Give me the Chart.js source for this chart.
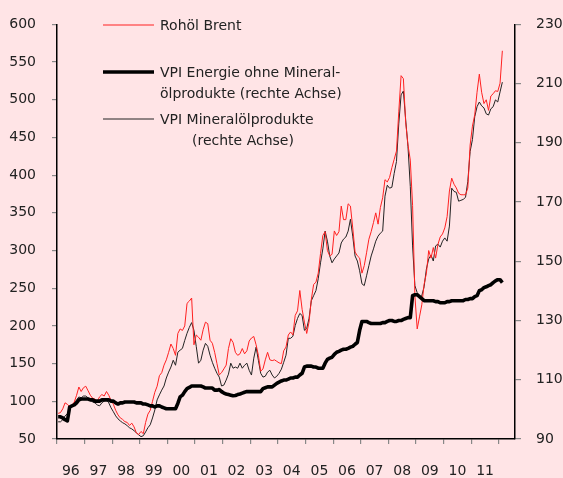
<!DOCTYPE html>
<html>
<head>
<meta charset="utf-8">
<script src="https://cdn.jsdelivr.net/npm/chart.js@4/dist/chart.umd.min.js"></script>
<style>
html,body{margin:0;padding:0;background:#FFE4E6;}
#wrap{width:563px;height:478px;}
</style>
</head>
<body>
<div id="wrap"><canvas id="c" width="563" height="478"></canvas></div>
<script>
// ---- data ----
const yearLabels = ['96','97','98','99','00','01','02','03','04','05','06','07','08','09','10','11'];
const startYear = 1996;
const axisEndYear = 2012.583;

// Rohöl Brent (left axis), monthly Jan 1996 - Feb 2012
const brent = [
 84,85,90,98,96,93,95,99,108,119,113,118,
 120,114,108,104,103,100,106,109,107,113,108,101,
 96,88,82,78,76,73,72,68,71,66,58,56,
 60,57,72,83,88,100,112,120,134,138,148,155,
 165,176,170,161,190,196,194,200,230,233,237,175,
 188,185,181,195,205,203,181,177,165,150,135,138,
 143,148,170,183,178,165,161,163,170,163,167,180,
 184,186,175,161,140,143,155,165,155,154,155,153,
 151,150,167,172,188,192,188,214,220,247,222,205,
 190,205,235,255,258,270,296,320,325,300,293,295,
 326,320,325,359,341,341,362,359,330,298,293,290,
 270,280,297,315,325,337,350,335,357,370,394,391,
 397,410,421,432,484,532,528,470,440,420,360,240,
 196,212,228,255,270,300,290,304,290,308,318,322,
 330,345,379,396,388,383,376,374,374,374,383,440,
 465,480,510,534,510,495,500,486,505,508,512,511,522,565
];

// VPI Mineralölprodukte (right axis)
const vpiMineral = [
 95.8,95.8,96.5,97.8,98.5,99.8,101.5,102.2,103.2,104.2,103.9,104.5,
 104.5,103.9,103.2,102.5,102.2,101.5,101.2,102.2,102.8,103.2,102.2,100.5,
 99.2,97.8,96.8,96.1,95.5,95.1,94.5,93.8,93.4,92.8,92.1,91.4,
 90.8,91.1,92.4,93.8,94.8,97.1,99.8,103.2,104.9,106.5,107.9,110.6,
 112.6,114.3,116.6,114.9,119.3,120.0,120.6,123.3,125.7,127.7,129.3,126.7,
 121.3,115.6,116.6,120.0,122.3,121.3,118.3,115.9,113.9,112.2,110.9,107.9,
 108.2,109.9,111.9,115.6,113.9,114.3,113.9,115.6,113.9,114.9,115.6,113.2,
 111.6,117.3,121.0,116.6,112.2,110.9,111.2,112.6,113.2,111.6,110.6,111.2,
 112.2,113.6,115.9,118.3,124.0,124.0,124.7,128.3,130.7,132.4,131.7,126.7,
 127.3,130.7,136.7,138.4,140.1,144.1,149.5,154.2,160.2,156.8,151.8,149.5,
 150.8,151.8,152.8,156.2,157.5,158.2,160.2,164.2,158.5,151.8,150.1,146.8,
 142.4,141.8,145.1,148.5,151.8,154.2,156.8,158.5,159.5,160.2,172.0,175.7,
 174.7,175.0,179.7,183.7,196.4,206.2,207.5,197.8,188.7,175.3,155.2,141.8,
 139.4,137.7,138.4,141.4,147.4,150.8,152.1,150.1,155.2,155.8,154.8,156.8,
 157.9,156.8,161.9,174.7,173.6,173.3,170.3,170.6,170.9,171.6,177.0,187.1,
 191.1,198.8,202.2,203.8,202.5,201.8,199.8,199.4,201.5,202.2,204.5,203.8,207.2,210.5
];

// VPI Energie ohne Mineralölprodukte (right axis)
const vpiEnergie = [
 97.5,97.5,97.1,96.5,96.1,100.8,101.2,101.5,102.2,103.2,103.5,103.5,
 103.5,103.5,103.2,103.2,102.8,102.8,102.8,103.2,103.2,103.2,103.2,102.8,
 102.8,102.2,101.8,102.2,102.2,102.5,102.5,102.5,102.5,102.5,102.2,102.2,
 102.2,101.8,101.8,101.5,101.2,101.2,100.8,101.2,101.2,100.8,100.5,100.2,
 100.2,100.2,100.2,100.2,102.0,104.2,104.8,106.0,107.0,107.4,107.9,107.9,
 107.9,107.9,107.9,107.6,107.2,107.2,107.2,107.2,106.5,106.5,106.7,106.0,
 105.5,105.2,105.0,104.8,104.6,104.7,105.0,105.2,105.5,105.8,106.0,106.0,
 106.0,106.0,106.0,106.0,106.0,107.0,107.3,107.6,107.6,107.6,108.2,108.8,
 109.2,109.6,109.9,109.9,110.2,110.6,110.6,110.9,110.9,111.6,112.2,114.3,
 114.6,114.6,114.6,114.3,114.3,113.9,113.9,113.9,115.6,116.9,117.3,117.6,
 118.6,119.3,119.6,120.0,120.3,120.3,120.6,121.0,121.3,122.0,122.6,126.7,
 129.7,129.7,129.7,129.3,129.0,129.0,129.0,129.0,129.0,129.3,129.3,129.7,
 130.0,130.0,129.7,129.7,130.0,130.0,130.4,130.7,131.0,131.0,138.4,138.7,
 138.7,138.1,137.4,136.7,136.7,136.7,136.7,136.7,136.4,136.4,136.0,136.0,
 136.0,136.4,136.4,136.7,136.7,136.7,136.7,136.7,136.7,137.1,137.1,137.4,
 137.4,138.1,138.4,140.1,140.4,141.1,141.4,141.8,142.1,142.8,143.4,143.8,143.8,142.8
];

const leftAxis = {min: 50, max: 600, step: 50};
const rightAxis = {min: 90, max: 230, step: 20};

// ---- chart ----
const FONT = 'DejaVu Sans';
const TXT = '#222222';
function toPoints(arr){ return arr.map((v,i)=>({x: startYear + (i+0.5)/12, y: v})); }

const legendPlugin = {
  id: 'manualLegend',
  afterDraw(chart){
    const ctx = chart.ctx;
    const items = [
      {lines:['Rohöl Brent'], color:'#FF2020', w:1, y:25, ind:[0]},
      {lines:['VPI Energie ohne Mineral-','ölprodukte (rechte Achse)'], color:'#000', w:3.5, y:72, ind:[0,0]},
      {lines:['VPI Mineralölprodukte','(rechte Achse)'], color:'#222', w:1, y:119, ind:[0,32]}
    ];
    ctx.save();
    ctx.font = '14px "' + FONT + '"';
    ctx.fillStyle = TXT;
    ctx.textBaseline = 'middle';
    ctx.textAlign = 'left';
    items.forEach(it=>{
      ctx.beginPath();
      ctx.strokeStyle = it.color;
      ctx.lineWidth = it.w;
      ctx.moveTo(103, it.y); ctx.lineTo(154, it.y);
      ctx.stroke();
      it.lines.forEach((t,k)=>{ ctx.fillText(t, 160 + it.ind[k], it.y + 1 + k*21); });
    });
    ctx.restore();
  }
};

new Chart(document.getElementById('c'), {
  type: 'line',
  data: {
    datasets: [
      {label:'VPI Energie ohne Mineralölprodukte (rechte Achse)', data: toPoints(vpiEnergie), yAxisID:'y1',
       borderColor:'#000000', borderWidth:3.6, pointRadius:0, order:0, tension:0, borderJoinStyle:'round'},
      {label:'Rohöl Brent', data: toPoints(brent), yAxisID:'y',
       borderColor:'#FF2020', borderWidth:1, pointRadius:0, order:1, tension:0},
      {label:'VPI Mineralölprodukte (rechte Achse)', data: toPoints(vpiMineral), yAxisID:'y1',
       borderColor:'#222222', borderWidth:1, pointRadius:0, order:2, tension:0}
    ]
  },
  options: {
    responsive:false, animation:false, devicePixelRatio:1,
    layout:{padding:{top:22, left:0, right:0, bottom:0}},
    plugins:{legend:{display:false}, tooltip:{enabled:false}},
    scales:{
      x:{
        type:'linear', min:startYear, max:axisEndYear,
        afterBuildTicks(s){
          const t=[];
          for(let k=0;k<=yearLabels.length;k++){
            t.push({value:startYear+k});
            if(k<yearLabels.length) t.push({value:startYear+k+0.5});
          }
          s.ticks=t;
        },
        afterFit(s){ s.height = 39; },
        ticks:{autoSkip:false, maxRotation:0, minRotation:0, padding:19, color:TXT, font:{family:FONT,size:14},
          callback(v){ const k = v - startYear - 0.5; return (Number.isInteger(k) && k>=0 && k<yearLabels.length) ? yearLabels[k] : ''; }},
        grid:{drawOnChartArea:false, drawTicks:true, tickLength:5, lineWidth:1.2,
          tickColor(c){ return (c.tick && Number.isInteger(c.tick.value)) ? '#888888' : 'rgba(0,0,0,0)'; }},
        border:{display:true, color:'#000', width:1.5}
      },
      y:{
        position:'left', min:leftAxis.min, max:leftAxis.max,
        afterFit(s){ s.width = 57; },
        ticks:{stepSize:leftAxis.step, padding:16, color:TXT, font:{family:FONT,size:14}},
        grid:{drawOnChartArea:false, tickLength:5, tickColor:'#888888', lineWidth:1.2},
        border:{display:true, color:'#000', width:1.5}
      },
      y1:{
        position:'right', min:rightAxis.min, max:rightAxis.max,
        afterFit(s){ s.width = 48; },
        ticks:{stepSize:rightAxis.step, padding:15, color:TXT, font:{family:FONT,size:14}},
        grid:{drawOnChartArea:false, tickLength:6, tickColor:'#888888', lineWidth:1.2},
        border:{display:true, color:'#000', width:1.5}
      }
    }
  },
  plugins:[legendPlugin]
});
</script>
</body>
</html>
